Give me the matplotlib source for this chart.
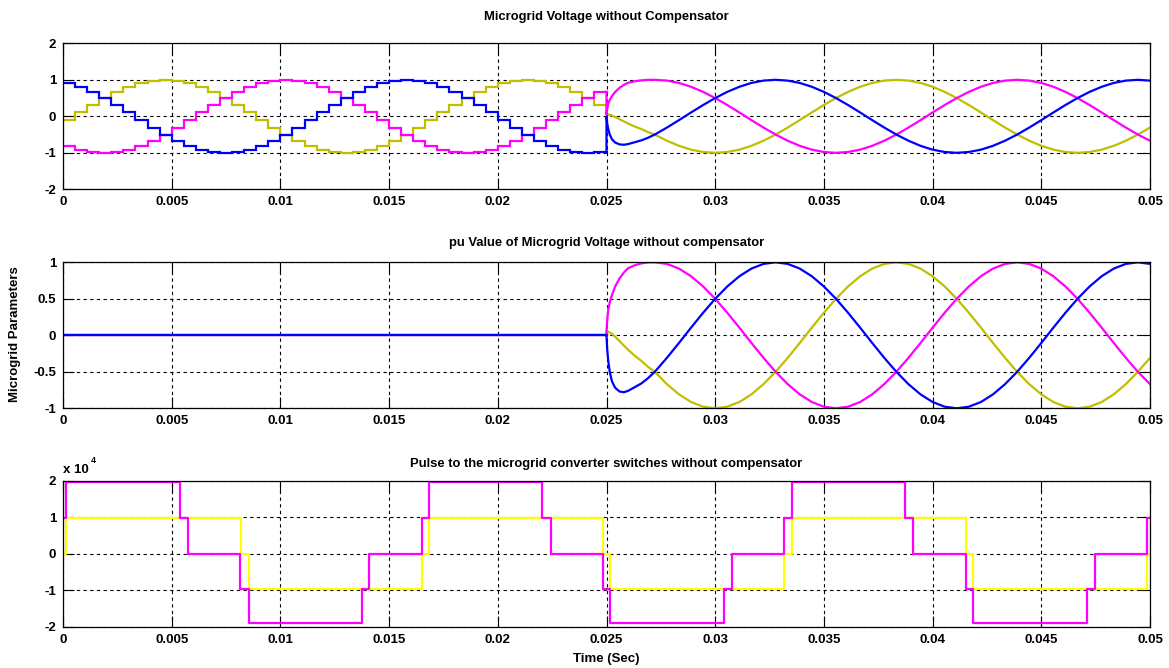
import numpy as np
import matplotlib
matplotlib.use('Agg')
import matplotlib.pyplot as plt
from matplotlib.ticker import FuncFormatter

plt.rcParams['font.family'] = ['Liberation Sans', 'DejaVu Sans']
plt.rcParams['font.weight'] = 'bold'
plt.rcParams['axes.unicode_minus'] = False

# ---- data -------------------------------------------------------------
fs = 1800.0                                   # sample rate of the held part
t_stair = np.arange(45) / fs                  # 0 .. 0.025 s, sample & hold
t_trans = [0.02500, 0.02503, 0.02508, 0.02515, 0.02525, 0.02540,
           0.02560, 0.02580, 0.02600, 0.02630, 0.02660, 0.02690]
t_steady = 0.025 + np.arange(4, 46) / fs      # 0.0272 .. 0.05 s

# phase A (olive), phase B (magenta), phase C (blue)
va_stair = [-0.105, 0.105, 0.309, 0.5, 0.669, 0.809, 0.914, 0.978, 1.0, 0.978,
            0.914, 0.809, 0.669, 0.5, 0.309, 0.105, -0.105, -0.309, -0.5, -0.669,
            -0.809, -0.914, -0.978, -1.0, -0.978, -0.914, -0.809, -0.669, -0.5, -0.309,
            -0.105, 0.105, 0.309, 0.5, 0.669, 0.809, 0.914, 0.978, 1.0, 0.978,
            0.914, 0.809, 0.669, 0.5, 0.309]
vb_stair = [-0.809, -0.914, -0.978, -1.0, -0.978, -0.914, -0.809, -0.669, -0.5, -0.309,
            -0.105, 0.105, 0.309, 0.5, 0.669, 0.809, 0.914, 0.978, 1.0, 0.978,
            0.914, 0.809, 0.669, 0.5, 0.309, 0.105, -0.105, -0.309, -0.5, -0.669,
            -0.809, -0.914, -0.978, -1.0, -0.978, -0.914, -0.809, -0.669, -0.5, -0.309,
            -0.105, 0.105, 0.309, 0.5, 0.669]
vc_stair = [0.914, 0.809, 0.669, 0.5, 0.309, 0.105, -0.105, -0.309, -0.5, -0.669,
            -0.809, -0.914, -0.978, -1.0, -0.978, -0.914, -0.809, -0.669, -0.5, -0.309,
            -0.105, 0.105, 0.309, 0.5, 0.669, 0.809, 0.914, 0.978, 1.0, 0.978,
            0.914, 0.809, 0.669, 0.5, 0.309, 0.105, -0.105, -0.309, -0.5, -0.669,
            -0.809, -0.914, -0.978, -1.0, -0.978]

va_trans = [0.06, 0.06, 0.05, 0.04, 0.02, -0.02, -0.08, -0.14, -0.20, -0.28, -0.35, -0.43]
vb_trans = [0.05, 0.20, 0.35, 0.45, 0.55, 0.67, 0.78, 0.86, 0.92, 0.96, 0.985, 0.998]
vc_trans = [0.0, -0.18, -0.35, -0.50, -0.63, -0.72, -0.77, -0.78, -0.76, -0.71, -0.66, -0.59]

va_steady = [-0.5, -0.669, -0.809, -0.914, -0.978, -1.0, -0.978, -0.914, -0.809, -0.669,
             -0.5, -0.309, -0.105, 0.105, 0.309, 0.5, 0.669, 0.809, 0.914, 0.978,
             1.0, 0.978, 0.914, 0.809, 0.669, 0.5, 0.309, 0.105, -0.105, -0.309,
             -0.5, -0.669, -0.809, -0.914, -0.978, -1.0, -0.978, -0.914, -0.809, -0.669,
             -0.5, -0.309]
vb_steady = [1.0, 0.978, 0.914, 0.809, 0.669, 0.5, 0.309, 0.105, -0.105, -0.309,
             -0.5, -0.669, -0.809, -0.914, -0.978, -1.0, -0.978, -0.914, -0.809, -0.669,
             -0.5, -0.309, -0.105, 0.105, 0.309, 0.5, 0.669, 0.809, 0.914, 0.978,
             1.0, 0.978, 0.914, 0.809, 0.669, 0.5, 0.309, 0.105, -0.105, -0.309,
             -0.5, -0.669]
vc_steady = [-0.5, -0.309, -0.105, 0.105, 0.309, 0.5, 0.669, 0.809, 0.914, 0.978,
             1.0, 0.978, 0.914, 0.809, 0.669, 0.5, 0.309, 0.105, -0.105, -0.309,
             -0.5, -0.669, -0.809, -0.914, -0.978, -1.0, -0.978, -0.914, -0.809, -0.669,
             -0.5, -0.309, -0.105, 0.105, 0.309, 0.5, 0.669, 0.809, 0.914, 0.978,
             1.0, 0.978]

# pu plot before the compensator kicks in
t_pu_off = [0.0, 0.025]
v_pu_off = [0.0, 0.0]

# converter pulses (breakpoints, held until the next one)
t_pulse_y = [0, 0.00012, 0.00818, 0.00854, 0.01653, 0.01684, 0.02482, 0.02516,
             0.03316, 0.03352, 0.04154, 0.04187, 0.04985, 0.05]
v_pulse_y = [0, 9900, 0, -9600, 0, 9900, 0, -9600, 0, 9900, 0, -9600, 0, 0]
t_pulse_m = [0, 0.00015, 0.0054, 0.00574, 0.00815, 0.00854, 0.01377, 0.01408,
             0.01653, 0.01684, 0.02205, 0.02243, 0.02482, 0.02516, 0.0304, 0.03076,
             0.03316, 0.03352, 0.03873, 0.03908, 0.04154, 0.04187, 0.04709, 0.04747,
             0.04985, 0.05]
v_pulse_m = [9900, 19700, 9900, 0, -9600, -19100, -9600, 0,
             9900, 19700, 9900, 0, -9600, -19100, -9600, 0,
             9900, 19700, 9900, 0, -9600, -19100, -9600, 0, 9900, 9900]

xtick_vals = [0, 0.005, 0.01, 0.015, 0.02, 0.025, 0.03, 0.035, 0.04, 0.045, 0.05]
xtick_labels = ['0', '0.005', '0.01', '0.015', '0.02', '0.025', '0.03', '0.035',
                '0.04', '0.045', '0.05']

OLIVE = '#bfbf00'
MAG = '#ff00ff'
BLUE = '#0000ff'
YEL = '#ffff00'
LW = 1.6
FS = 9.5

# ---- figure -----------------------------------------------------------
fig = plt.figure(figsize=(11.69, 6.68), dpi=100)
L, W, H = 63 / 1169, 1087 / 1169, 146 / 668
ax1 = fig.add_axes([L, 1 - 189.3 / 668, W, H])
ax2 = fig.add_axes([L, 1 - 408.3 / 668, W, H])
ax3 = fig.add_axes([L, 1 - 626.7 / 668, W, H])


def style(ax, yticks):
    ax.set_xlim(0, 0.05)
    ax.set_xticks(xtick_vals)
    ax.set_xticklabels(xtick_labels)
    ax.set_yticks(yticks)
    ax.grid(True, color='black', linestyle=(0, (3, 3)), linewidth=0.8)
    ax.tick_params(direction='in', length=8, width=0.8, top=True, right=True,
                   labelsize=FS, pad=5)
    for s in ax.spines.values():
        s.set_linewidth(0.9)


def draw_phase(ax, t_left, v_left, v_tr, v_st, color, step=True):
    if step:
        ax.step(list(t_left) + [0.025], list(v_left) + [v_left[-1]], where='post',
                color=color, lw=LW, solid_joinstyle='miter')
    else:
        ax.plot(t_left, v_left, color=color, lw=LW)
    ax.plot([0.025] + t_trans + list(t_steady),
            [v_left[-1]] + v_tr + v_st, color=color, lw=LW)


# panel 1
draw_phase(ax1, t_stair, va_stair, va_trans, va_steady, OLIVE)
draw_phase(ax1, t_stair, vb_stair, vb_trans, vb_steady, MAG)
draw_phase(ax1, t_stair, vc_stair, vc_trans, vc_steady, BLUE)
ax1.set_ylim(-2, 2)
style(ax1, [-2, -1, 0, 1, 2])

# panel 2
draw_phase(ax2, t_pu_off, v_pu_off, va_trans, va_steady, OLIVE, step=False)
draw_phase(ax2, t_pu_off, v_pu_off, vb_trans, vb_steady, MAG, step=False)
draw_phase(ax2, t_pu_off, v_pu_off, vc_trans, vc_steady, BLUE, step=False)
ax2.set_ylim(-1, 1)
style(ax2, [-1, -0.5, 0, 0.5, 1])
ax2.set_yticklabels(['-1', '-0.5', '0', '0.5', '1'])

# panel 3
ax3.step(t_pulse_y, v_pulse_y, where='post', color=YEL, lw=LW)
ax3.step(t_pulse_m, v_pulse_m, where='post', color=MAG, lw=LW)
ax3.set_ylim(-20000, 20000)
style(ax3, [-20000, -10000, 0, 10000, 20000])
ax3.yaxis.set_major_formatter(FuncFormatter(lambda v, p: '%g' % (v / 1e4)))
ax3.text(0.0, 1.03, 'x 10', transform=ax3.transAxes, ha='left', va='bottom',
         fontsize=FS, fontweight='bold')
ax3.text(0.0255, 1.11, '4', transform=ax3.transAxes, ha='left', va='bottom',
         fontsize=6.5, fontweight='bold')

# titles and labels
xc = (63 + 1150) / 2 / 1169
fig.text(xc, 1 - 17 / 668, 'Microgrid Voltage without Compensator',
         ha='center', va='center', fontsize=9.4, fontweight='bold')
fig.text(xc, 1 - 243 / 668, 'pu Value of Microgrid Voltage without compensator',
         ha='center', va='center', fontsize=9.4, fontweight='bold')
fig.text(xc, 1 - 464 / 668, 'Pulse to the microgrid converter switches without compensator',
         ha='center', va='center', fontsize=9.4, fontweight='bold')
fig.text(xc, 1 - 659 / 668, 'Time (Sec)', ha='center', va='center',
         fontsize=9.5, fontweight='bold')
fig.text(15 / 1169, 0.5, 'Microgrid Parameters', rotation=90, ha='center',
         va='center', fontsize=9.5, fontweight='bold')

fig.savefig('out.png', dpi=100)
